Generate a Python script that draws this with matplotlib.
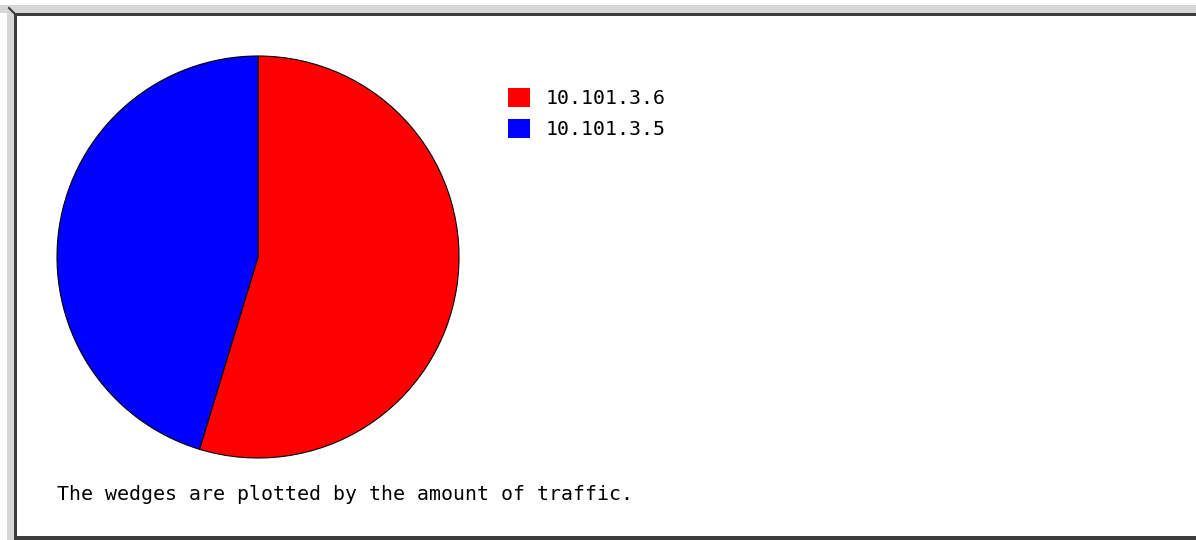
import matplotlib
matplotlib.use("Agg")
import matplotlib.pyplot as plt
from matplotlib.patches import Rectangle

# Data
labels = ["10.101.3.6", "10.101.3.5"]
traffic = [54.7, 45.3]
colors = ["#ff0000", "#0000ff"]
caption = "The wedges are plotted by the amount of traffic."

W, H = 1196, 540
fig = plt.figure(figsize=(W / 100, H / 100), dpi=100)
fig.patch.set_facecolor("white")
ax = fig.add_axes([0, 0, 1, 1])

# y axis inverted below: startangle=270 points up on screen,
# counterclock=True then runs clockwise on screen
wedges, _ = ax.pie(traffic, colors=colors, startangle=270, counterclock=True,
                   center=(258, 257), radius=201,
                   wedgeprops=dict(edgecolor="black", linewidth=0.8))

ax.set_xlim(0, W)
ax.set_ylim(H, 0)
ax.set_aspect("equal")
ax.axis("off")

# Frame decoration (screenshot border)
ax.add_patch(Rectangle((0, 5), W, 8, facecolor="#d6d6d6", edgecolor="none"))
ax.add_patch(Rectangle((7, 5), 7, H - 5, facecolor="#d6d6d6", edgecolor="none"))
ax.add_patch(Rectangle((14, 13), W - 14, 3, facecolor="#3c3c3c", edgecolor="none"))
ax.add_patch(Rectangle((14, 13), 3, H - 13, facecolor="#3c3c3c", edgecolor="none"))
ax.add_patch(Rectangle((14, 536), W - 14, 4, facecolor="#3c3c3c", edgecolor="none"))
ax.plot([9, 15], [8, 14], color="#3c3c3c", lw=1.5)

fs = 14.3
leg = ax.legend(wedges, labels, loc="upper left",
                bbox_to_anchor=(508, 88), bbox_transform=ax.transData,
                frameon=False, borderpad=0, borderaxespad=0,
                handlelength=1.1, handleheight=1.1, handletextpad=0.8,
                labelspacing=0.55,
                prop=dict(family="DejaVu Sans Mono", size=fs))
for h in leg.legend_handles:
    h.set_edgecolor("none")

ax.text(57, 495, caption, fontsize=fs, family="DejaVu Sans Mono",
        color="black", ha="left", va="center")

fig.savefig("out.png", dpi=100, facecolor="white")
